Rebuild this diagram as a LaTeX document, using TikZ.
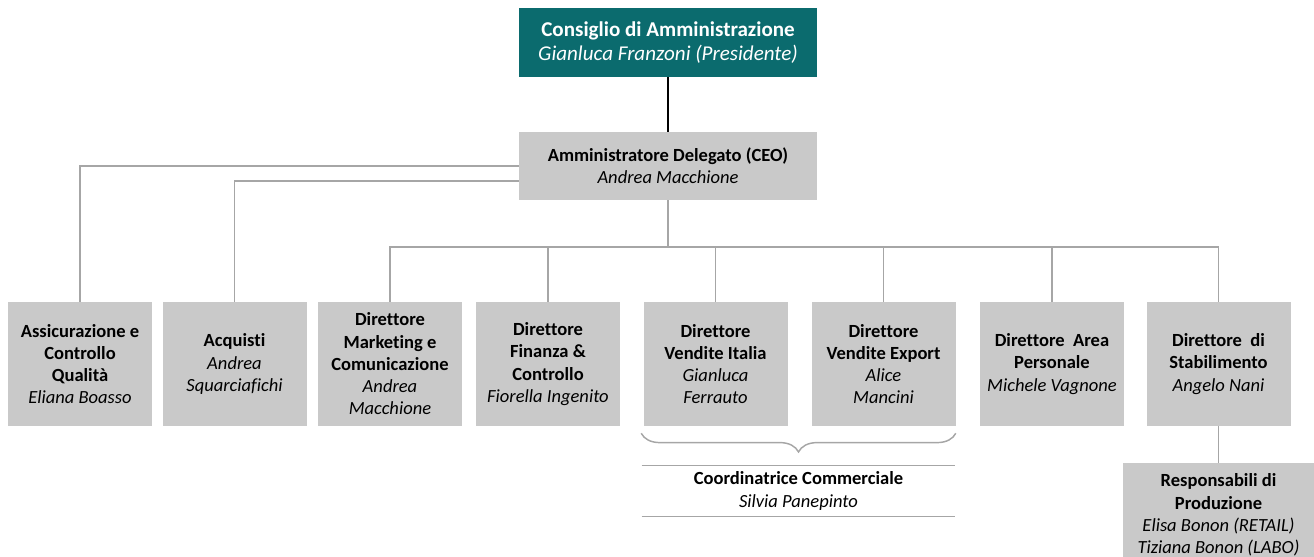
\documentclass[tikz,border=0pt]{standalone}
\usepackage{fontspec}
\setmainfont{Carlito}[Ligatures=CommonOff]
\usetikzlibrary{positioning, calc, decorations.pathreplacing}
\definecolor{boardteal}{RGB}{11,107,110}
\definecolor{boxgray}{RGB}{201,201,201}
\definecolor{linegray}{RGB}{166,166,166}

\begin{document}
\begin{tikzpicture}[
    x=0.75pt, y=-0.75pt,
    every node/.style={font=\fontsize{13.9}{16.7}\selectfont, align=center, inner sep=0pt},
    topbox/.style={fill=boardteal, text=white, minimum width=223.5pt, minimum height=51.75pt,
        font=\fontsize{15.8}{17.5}\selectfont},
    headbox/.style={fill=boxgray, minimum width=223.5pt, minimum height=51pt},
    unitbox/.style={fill=boxgray, minimum width=108pt, minimum height=93pt},
    conn/.style={draw=linegray, line width=1.1pt}
]

\useasboundingbox (0,0) rectangle (1314,557);

% ============ TOP LEVEL ============
\node[topbox] (cda) at (668,42.5) {\textbf{Consiglio di Amministrazione}\\\textit{Gianluca Franzoni (Presidente)}};
\node[headbox] (ceo) at (668,166) {\textbf{Amministratore Delegato (CEO)}\\\textit{Andrea Macchione}};

% ============ UNITS ============
\node[unitbox] (qual) at (80,364) {\textbf{Assicurazione e}\\\textbf{Controllo}\\\textbf{Qualità}\\\textit{Eliana Boasso}};
\node[unitbox] (acq) at (234.5,364) {\textbf{Acquisti}\\\textit{Andrea}\\\textit{Squarciafichi}};
\node[unitbox] (mkt) at (390,364) {\textbf{Direttore}\\\textbf{Marketing e}\\\textbf{Comunicazione}\\\textit{Andrea}\\\textit{Macchione}};
\node[unitbox] (fin) at (548,364) {\textbf{Direttore}\\\textbf{Finanza \&}\\\textbf{Controllo}\\\textit{Fiorella Ingenito}};
\node[unitbox] (vit) at (715.5,364) {\textbf{Direttore}\\\textbf{Vendite Italia}\\\textit{Gianluca}\\\textit{Ferrauto}};
\node[unitbox] (vex) at (883.5,364) {\textbf{Direttore}\\\textbf{Vendite Export}\\\textit{Alice}\\\textit{Mancini}};
\node[unitbox] (pers) at (1052,364) {\textbf{Direttore\ \ Area}\\\textbf{Personale}\\\textit{Michele Vagnone}};
\node[unitbox] (stab) at (1218.5,364) {\textbf{Direttore\ \ di}\\\textbf{Stabilimento}\\\textit{Angelo Nani}};

% ============ SUB LEVEL ============
\node[minimum width=234.75pt, minimum height=37.5pt] (coord) at (798.5,491) {\textbf{Coordinatrice Commerciale}\\\textit{Silvia Panepinto}};
\draw[conn] (coord.north west) -- (coord.north east);
\draw[conn] (coord.south west) -- (coord.south east);
\node[fill=boxgray, minimum width=143.25pt, minimum height=78pt] (resp) at (1218.5,515) {\textbf{Responsabili di}\\\textbf{Produzione}\\\textit{Elisa Bonon (RETAIL)}\\\textit{Tiziana Bonon (LABO)}};

% ============ CONNECTORS ============
\draw[black, line width=1.5pt] (cda) -- (ceo);
\coordinate (bus) at (668,247);
\draw[conn] (ceo.south) -- (bus);
\draw[conn] (mkt.north) -- (mkt.north |- bus) -- (stab.north |- bus) -- (stab.north);
\foreach \n in {fin,vit,vex,pers}
    \draw[conn] (\n.north) -- (\n.north |- bus);
\draw[conn] (qual.north) |- (ceo.west);
\draw[conn] (acq.north) |- ($(ceo.west)+(0,15)$);
\draw[conn] (stab.south) -- (resp.north);

% brace over the two sales units
\draw[conn, decorate, decoration={brace, mirror, amplitude=14pt}]
    ($(vit.south west)+(-2,7)$) -- ($(vex.south east)+(0,7)$);

\end{tikzpicture}
\end{document}
